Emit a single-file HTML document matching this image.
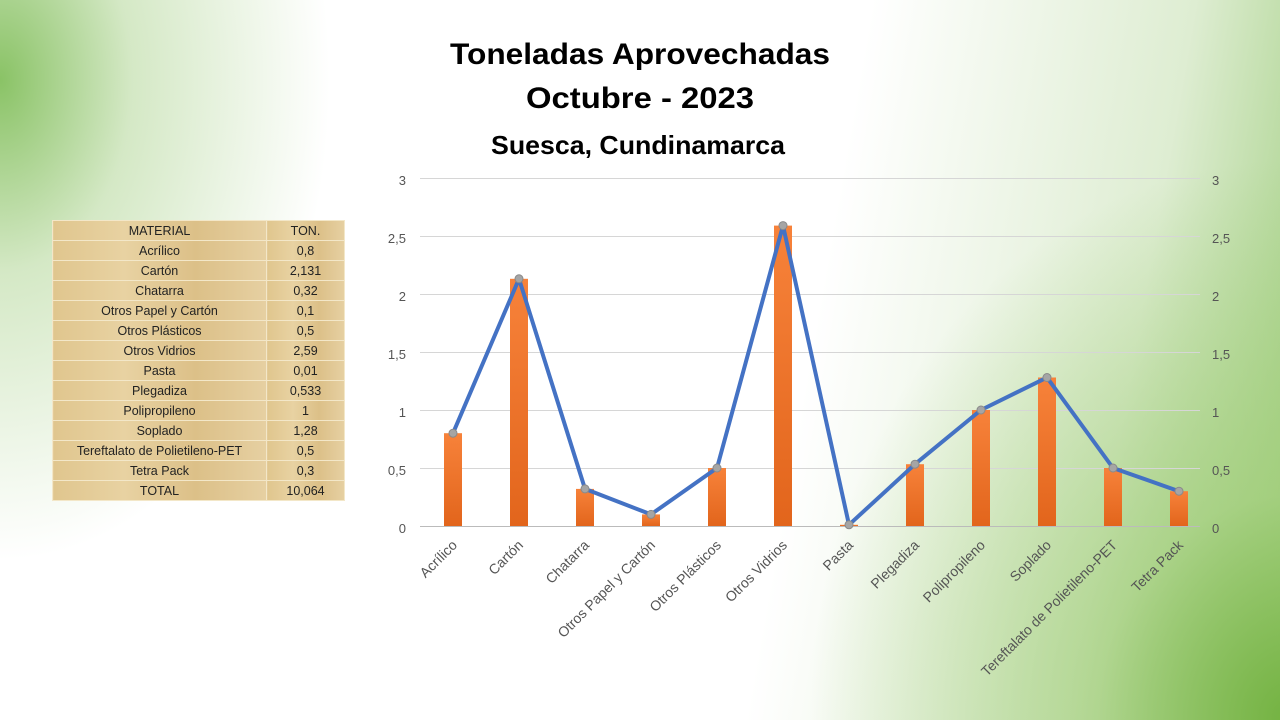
<!DOCTYPE html>
<html><head><meta charset="utf-8"><style>
html,body{margin:0;padding:0}
body{width:1280px;height:720px;overflow:hidden;position:relative;font-family:"Liberation Sans",sans-serif;
background:
radial-gradient(ellipse 330px 480px at 0px 80px, rgba(125,188,85,0.9) 0%, rgba(170,210,140,0.5) 40%, rgba(255,255,255,0) 100%),
radial-gradient(ellipse 480px 560px at 1290px 720px, rgba(115,178,65,1) 0%, rgba(160,205,120,0.7) 40%, rgba(255,255,255,0) 100%),
linear-gradient(100deg, rgba(255,255,255,0) 0%, rgba(255,255,255,0) 62%, rgba(200,225,180,0.6) 85%, rgba(140,195,100,0.85) 100%),
#ffffff;}
table{position:absolute;left:52px;top:220px;border-collapse:collapse;font-size:12.5px;color:#222;background:#e3c892}
td{height:19px;border:1px solid #f3e7c8;text-align:center;padding:0;background:linear-gradient(90deg,#e0c68e,#e8d2a2,#dcc088,#e6d0a2)}
td.a{width:213px}td.b{width:77px}
</style></head><body>
<table>
<tr><td class="a">MATERIAL</td><td class="b">TON.</td></tr>
<tr><td class="a">Acrílico</td><td class="b">0,8</td></tr>
<tr><td class="a">Cartón</td><td class="b">2,131</td></tr>
<tr><td class="a">Chatarra</td><td class="b">0,32</td></tr>
<tr><td class="a">Otros Papel y Cartón</td><td class="b">0,1</td></tr>
<tr><td class="a">Otros Plásticos</td><td class="b">0,5</td></tr>
<tr><td class="a">Otros Vidrios</td><td class="b">2,59</td></tr>
<tr><td class="a">Pasta</td><td class="b">0,01</td></tr>
<tr><td class="a">Plegadiza</td><td class="b">0,533</td></tr>
<tr><td class="a">Polipropileno</td><td class="b">1</td></tr>
<tr><td class="a">Soplado</td><td class="b">1,28</td></tr>
<tr><td class="a">Tereftalato de Polietileno-PET</td><td class="b">0,5</td></tr>
<tr><td class="a">Tetra Pack</td><td class="b">0,3</td></tr>
<tr><td class="a">TOTAL</td><td class="b">10,064</td></tr>
</table>
<svg width="1280" height="720" style="position:absolute;left:0;top:0" font-family="Liberation Sans, sans-serif">
<defs><linearGradient id="bar" x1="0" x2="0" y1="0" y2="1"><stop offset="0" stop-color="#f7823a"/><stop offset="1" stop-color="#e2651c"/></linearGradient></defs>
<g font-weight="bold" fill="#000" text-anchor="middle">
<text x="640" y="64" font-size="30" textLength="380" lengthAdjust="spacingAndGlyphs">Toneladas Aprovechadas</text>
<text x="640" y="108" font-size="30" textLength="228" lengthAdjust="spacingAndGlyphs">Octubre - 2023</text>
<text x="638" y="154" font-size="26" textLength="294" lengthAdjust="spacingAndGlyphs">Suesca, Cundinamarca</text>
</g>
<g stroke="#d6d6d6" stroke-width="1">
<line x1="420" x2="1200" y1="178.5" y2="178.5"/><line x1="420" x2="1200" y1="236.5" y2="236.5"/>
<line x1="420" x2="1200" y1="294.5" y2="294.5"/><line x1="420" x2="1200" y1="352.5" y2="352.5"/>
<line x1="420" x2="1200" y1="410.5" y2="410.5"/><line x1="420" x2="1200" y1="468.5" y2="468.5"/>
<line x1="420" x2="1200" y1="526.5" y2="526.5" stroke="#bbb"/>
</g>
<g font-size="13" fill="#555">
<g text-anchor="end"><text x="406" y="185">3</text><text x="406" y="243">2,5</text><text x="406" y="301">2</text><text x="406" y="359">1,5</text><text x="406" y="417">1</text><text x="406" y="475">0,5</text><text x="406" y="533">0</text></g>
<g text-anchor="start"><text x="1212" y="185">3</text><text x="1212" y="243">2,5</text><text x="1212" y="301">2</text><text x="1212" y="359">1,5</text><text x="1212" y="417">1</text><text x="1212" y="475">0,5</text><text x="1212" y="533">0</text></g>
</g>
<g fill="url(#bar)">
<rect x="444" y="433.2" width="18" height="92.8"/>
<rect x="510" y="278.8" width="18" height="247.2"/>
<rect x="576" y="488.9" width="18" height="37.1"/>
<rect x="642" y="514.4" width="18" height="11.6"/>
<rect x="708" y="468" width="18" height="58"/>
<rect x="774" y="225.6" width="18" height="300.4"/>
<rect x="840" y="524.8" width="18" height="1.2"/>
<rect x="906" y="464.2" width="18" height="61.8"/>
<rect x="972" y="410" width="18" height="116"/>
<rect x="1038" y="377.5" width="18" height="148.5"/>
<rect x="1104" y="468" width="18" height="58"/>
<rect x="1170" y="491.2" width="18" height="34.8"/>
</g>
<polyline fill="none" stroke="#4472c4" stroke-width="4" stroke-linejoin="round" points="453,433.2 519,278.8 585,488.9 651,514.4 717,468 783,225.6 849,524.8 915,464.2 981,410 1047,377.5 1113,468 1179,491.2"/>
<g fill="#a5a5a5" stroke="#8a8a8a" stroke-width="1">
<circle cx="453" cy="433.2" r="4"/><circle cx="519" cy="278.8" r="4"/><circle cx="585" cy="488.9" r="4"/><circle cx="651" cy="514.4" r="4"/><circle cx="717" cy="468" r="4"/><circle cx="783" cy="225.6" r="4"/><circle cx="849" cy="524.8" r="4"/><circle cx="915" cy="464.2" r="4"/><circle cx="981" cy="410" r="4"/><circle cx="1047" cy="377.5" r="4"/><circle cx="1113" cy="468" r="4"/><circle cx="1179" cy="491.2" r="4"/>
</g>
<g font-size="14" fill="#555" text-anchor="end">
<text transform="translate(458,546) rotate(-45)">Acrílico</text>
<text transform="translate(524,546) rotate(-45)">Cartón</text>
<text transform="translate(590,546) rotate(-45)">Chatarra</text>
<text transform="translate(656,546) rotate(-45)">Otros Papel y Cartón</text>
<text transform="translate(722,546) rotate(-45)">Otros Plásticos</text>
<text transform="translate(788,546) rotate(-45)">Otros Vidrios</text>
<text transform="translate(854,546) rotate(-45)">Pasta</text>
<text transform="translate(920,546) rotate(-45)">Plegadiza</text>
<text transform="translate(986,546) rotate(-45)">Polipropileno</text>
<text transform="translate(1052,546) rotate(-45)">Soplado</text>
<text transform="translate(1118,546) rotate(-45)">Tereftalato de Polietileno-PET</text>
<text transform="translate(1184,546) rotate(-45)">Tetra Pack</text>
</g>
</svg>
</body></html>
